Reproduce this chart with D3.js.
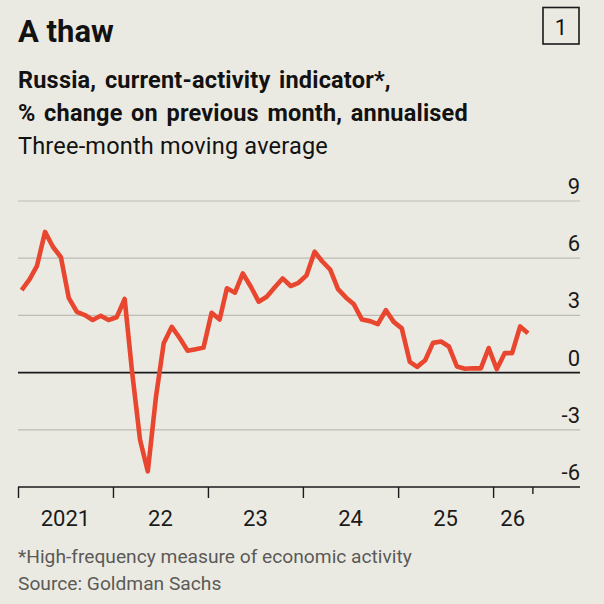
<!DOCTYPE html>
<html>
<head>
<meta charset="utf-8">
<script src="https://cdn.jsdelivr.net/npm/d3@7"></script>
<style>
  body { margin: 0; background: #ebeae2; }
  svg { display: block; font-family: Roboto, "Noto Sans", sans-serif; }
</style>
</head>
<body>
<div class="chart"></div>
<script>
// monthly readings, three-month moving average
const months = [
  "2021-01","2021-02","2021-03","2021-04","2021-05","2021-06","2021-07","2021-08","2021-09","2021-10","2021-11","2021-12",
  "2022-01","2022-02","2022-03","2022-04","2022-05","2022-06","2022-07","2022-08","2022-09","2022-10","2022-11","2022-12",
  "2023-01","2023-02","2023-03","2023-04","2023-05","2023-06","2023-07","2023-08","2023-09","2023-10","2023-11","2023-12",
  "2024-01","2024-02","2024-03","2024-04","2024-05","2024-06","2024-07","2024-08","2024-09","2024-10","2024-11","2024-12",
  "2025-01","2025-02","2025-03","2025-04","2025-05","2025-06","2025-07","2025-08","2025-09","2025-10","2025-11","2025-12",
  "2026-01","2026-02","2026-03","2026-04","2026-05"
];
const activity = [
  4.33, 4.9, 5.6, 7.38, 6.6, 6.05, 3.92, 3.19, 3.02, 2.76, 2.98, 2.76,
  2.9, 3.86, 0.1, -3.52, -5.18, -1.3, 1.54, 2.4, 1.8, 1.15, 1.22, 1.31,
  3.14, 2.78, 4.42, 4.19, 5.2, 4.5, 3.72, 3.98, 4.48, 4.94, 4.54, 4.71,
  5.1, 6.34, 5.84, 5.4, 4.38, 3.93, 3.58, 2.78, 2.7, 2.54, 3.27, 2.66,
  2.32, 0.56, 0.3, 0.65, 1.56, 1.63, 1.37, 0.32, 0.2, 0.23, 0.22, 1.29,
  0.18, 1.03, 1.02, 2.42, 2.07
];
const yTicks = [-6, -3, 0, 3, 6, 9];
const yearLabels = ["2021", "22", "23", "24", "25", "26"];
const yearStarts = ["2021-01-01", "2022-01-01", "2023-01-01", "2024-01-01", "2025-01-01", "2026-01-01"];
const lastTick = "2026-06-01";

const width = 604, height = 604;
const plot = {left: 18, right: 580, top: 201, bottom: 487};

const parseMonth = d3.timeParse("%Y-%m");
const parseDay = d3.timeParse("%Y-%m-%d");

const data = months.map(function(m, i) {
  let d = parseMonth(m);
  d.setDate(15);
  return {date: d, value: activity[i]};
});

const svg = d3.select(".chart")
  .append("svg")
  .attr("width", width)
  .attr("height", height);

svg.append("rect")
  .attr("width", width)
  .attr("height", height)
  .attr("fill", "#ebeae2");

// titles
svg.append("text")
  .attr("x", 18).attr("y", 42)
  .attr("font-size", 31).attr("font-weight", 700)
  .attr("fill", "#121212")
  .text("A thaw");

svg.append("rect")
  .attr("x", 543).attr("y", 7.5)
  .attr("width", 36).attr("height", 36.5)
  .attr("fill", "none").attr("stroke", "#1a1a1a").attr("stroke-width", 1.6);
svg.append("text")
  .attr("x", 561).attr("y", 35)
  .attr("text-anchor", "middle")
  .attr("font-size", 22)
  .attr("fill", "#121212")
  .text("1");

const subtitles = [
  {text: "Russia, current-activity indicator*,", y: 88, weight: 700},
  {text: "% change on previous month, annualised", y: 121, weight: 700},
  {text: "Three-month moving average", y: 154, weight: 400}
];
svg.append("g")
  .selectAll("text")
  .data(subtitles)
  .enter()
  .append("text")
  .attr("x", 18)
  .attr("y", function(d) { return d.y; })
  .attr("font-size", 23.5)
  .attr("font-weight", function(d) { return d.weight; })
  .attr("letter-spacing", 0.2)
  .attr("word-spacing", function(d) { return d.weight === 700 ? 2.5 : 0; })
  .attr("fill", "#121212")
  .text(function(d) { return d.text; });

// scales
const x = d3.scaleTime()
  .domain([parseDay("2021-01-01"), parseDay("2026-12-01")])
  .range([plot.left, plot.right]);

const y = d3.scaleLinear()
  .domain([-6, 9])
  .range([plot.bottom, plot.top]);

// gridlines + y labels
const grid = svg.append("g").attr("class", "grid");
grid.selectAll("line")
  .data(yTicks.filter(function(t) { return t > -6; }))
  .enter()
  .append("line")
  .attr("x1", plot.left).attr("x2", plot.right)
  .attr("y1", function(d) { return y(d); })
  .attr("y2", function(d) { return y(d); })
  .attr("stroke", function(d) { return d === 0 ? "#1a1a1a" : "#bcbbb3"; })
  .attr("stroke-width", function(d) { return d === 0 ? 1.6 : 1.2; });

grid.selectAll("text")
  .data(yTicks)
  .enter()
  .append("text")
  .attr("x", plot.right)
  .attr("y", function(d) { return y(d) - 7; })
  .attr("text-anchor", "end")
  .attr("font-size", 22)
  .attr("fill", "#1a1a1a")
  .text(function(d) { return d; });

// x axis
const ticks = yearStarts.map(parseDay).concat([parseDay(lastTick)]);
const xAxis = svg.append("g")
  .attr("class", "bottom")
  .attr("transform", "translate(0," + plot.bottom + ")")
  .call(d3.axisBottom(x).tickValues(ticks).tickSize(11).tickFormat(""));

xAxis.select(".domain")
  .attr("d", "M" + plot.left + ",0H" + plot.right)
  .attr("stroke", "#1a1a1a").attr("stroke-width", 1.6);
xAxis.selectAll(".tick line")
  .attr("stroke", "#1a1a1a").attr("stroke-width", 1.4)
  .attr("y2", function(d) { return +d === +parseDay(lastTick) ? 7 : 11; });

// year labels sit in the middle of each year
svg.append("g")
  .selectAll("text")
  .data(yearLabels)
  .enter()
  .append("text")
  .attr("x", function(d, i) {
    let start = x(parseDay(yearStarts[i]));
    let end = i < yearStarts.length - 1 ? x(parseDay(yearStarts[i + 1])) : x(parseDay(lastTick));
    return (start + end) / 2;
  })
  .attr("y", 526)
  .attr("text-anchor", "middle")
  .attr("font-size", 22)
  .attr("fill", "#1a1a1a")
  .text(function(d) { return d; });

// the line
const line = d3.line()
  .x(function(d) { return x(d.date); })
  .y(function(d) { return y(d.value); });

svg.append("path")
  .datum(data)
  .attr("d", line)
  .attr("fill", "none")
  .attr("stroke", "#e9462f")
  .attr("stroke-width", 4.6)
  .attr("stroke-linejoin", "round");

// footnotes
svg.append("text")
  .attr("x", 18).attr("y", 563)
  .attr("font-size", 19.2)
  .attr("fill", "#5a5a58")
  .text("*High-frequency measure of economic activity");
svg.append("text")
  .attr("x", 18).attr("y", 590)
  .attr("font-size", 19.2)
  .attr("fill", "#5a5a58")
  .text("Source: Goldman Sachs");
</script>
</body>
</html>
